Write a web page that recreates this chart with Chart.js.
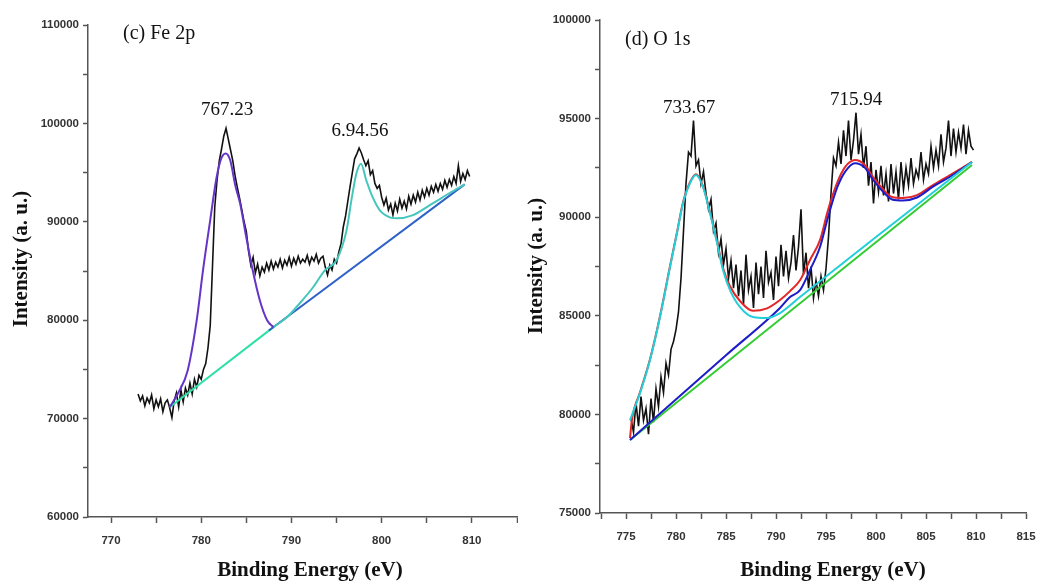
<!DOCTYPE html>
<html>
<head>
<meta charset="utf-8">
<title>XPS Fe 2p / O 1s</title>
<script src="https://cdn.jsdelivr.net/npm/chart.js@4.4.1/dist/chart.umd.min.js"></script>
<style>
  html, body { margin: 0; padding: 0; background: #fff; }
  #wrap { position: relative; width: 1037px; height: 583px; overflow: hidden; }
  .panel { position: absolute; top: 0; height: 583px; }
  #panel-fe { left: 0; width: 518px; }
  #panel-o { left: 518px; width: 519px; }
</style>
</head>
<body>
<div id="wrap">
  <div class="panel" id="panel-fe"><canvas id="chart-fe"></canvas></div>
  <div class="panel" id="panel-o"><canvas id="chart-o"></canvas></div>
</div>
<script>
// ---- (c) Fe 2p ----
const feXLabels = [770, 780, 790, 800, 810];
const feYLabels = [60000, 70000, 80000, 90000, 100000, 110000];

// measured spectrum, one value every 0.25 eV from 773.0 eV
const feRawStart = 773.0;
const feRawStep = 0.25;
const feRaw = [
  72500, 71800, 72300, 71300, 72100, 71600, 72400, 71000,
  71900, 71200, 72000, 70700, 71600, 71900, 71100, 70100,
  71800, 72600, 71200, 72900, 71700, 73100, 72400, 73600,
  72500, 74000, 73200, 74400, 74000, 75000, 75600, 77200,
  79500, 85500, 91500, 94200, 96200, 97400, 98700, 99500,
  98400, 97300, 96200, 94700, 93500, 92400, 91200, 90000,
  89000, 87000, 85600, 86400, 84800, 85700, 84500, 85400,
  84900, 85800, 85100, 86000, 85200, 85900, 85400, 86200,
  85300, 86100, 85600, 86400, 85500, 86300, 85700, 86500,
  85800, 86200, 85900, 86600, 85700, 86400, 86000, 86700,
  85800, 86300, 86500, 85400, 84600, 85600, 85100, 86200,
  85800, 86900, 87800, 89500, 90600, 92100, 93600, 95000,
  96400, 96900, 97500, 97000, 96300, 95700, 96200, 94800,
  95200, 93900, 93400, 93700, 92500, 91700, 92400, 91200,
  91800, 90700, 91900, 91100, 92300, 91400, 92100, 91300,
  92600, 91800, 92700, 92000, 93000, 92200, 93200, 92500,
  93400, 92700, 93600, 93000, 93800, 93100, 93900, 93300,
  94200, 93500, 94300, 93700, 94600, 93900, 95700, 94100,
  94900, 94300, 95200, 94600
];

// fitted components
const fePeak1E = [776.5, 777.5, 778.5, 779.5, 780.2, 781.0, 781.7, 782.2, 782.7, 783.2, 783.8, 784.3, 785.0, 785.7, 786.5, 787.3, 788.0];
const fePeak1I = [71150, 72700, 74900, 80000, 85100, 90200, 94500, 96400, 96950, 96300, 93600, 91900, 88400, 85100, 82000, 80000, 79300];
const fePeak2E = [788.0, 789.5, 790.9, 792.4, 793.7, 795.0, 796.1, 796.7, 797.2, 797.7, 798.3, 799.0, 799.8, 800.9, 801.7, 803.4, 805.7, 807.5, 809.2];
const fePeak2I = [79300, 80300, 81700, 83350, 85070, 86100, 89100, 92500, 94900, 95900, 94200, 92500, 91160, 90450, 90350, 90650, 91900, 92900, 93800];
const feBaseLowE = [776.5, 788.0];
const feBaseLowI = [71150, 79300];
const feBaseHighE = [787.5, 809.2];
const feBaseHighI = [78950, 93800];

// ---- (d) O 1s ----
const oXLabels = [775, 780, 785, 790, 795, 800, 805, 810, 815];
const oYLabels = [75000, 80000, 85000, 90000, 95000, 100000];

const oRawStart = 775.5;
const oRawStep = 0.25;
const oRaw = [
  79800, 79100, 80600, 79400, 80900, 79700, 80300, 79000,
  80800, 79600, 81300, 80400, 81900, 81100, 82600, 82000,
  83300, 83700, 84300, 85200, 86900, 89300, 91700, 93300,
  93100, 94900, 92600, 92900, 91700, 92300, 91200, 90400,
  90900, 89300, 89700, 88200, 88900, 87600, 88400, 86900,
  87800, 86400, 87600, 86000, 87300, 85600, 88100, 86300,
  87000, 85400, 87700, 86100, 87500, 85900, 88300, 86700,
  87200, 85800, 88000, 86500, 88600, 87000, 88300, 86900,
  87700, 89100, 87300, 88500, 90400, 87100, 88200, 86400,
  87500, 85900, 86800, 86000, 87000, 86300, 87400, 89000,
  91200, 93000, 92600, 93800, 92700, 94400, 93100, 94900,
  92900, 93900, 95300, 93200, 94200, 92500, 93600, 91600,
  92800, 90700, 92400, 91300, 92600, 91100, 92200, 90800,
  92700, 91200, 92300, 90900, 92800, 91400, 92500, 91600,
  93000, 91700, 92400, 92000, 93300, 91900, 92700, 92200,
  93600, 92500, 93400, 92600, 94200, 92800, 93500, 94900,
  93100, 94500, 93300, 94300, 93500, 94700, 93200, 94400,
  93600, 93400
];

const oPeak1E = [775.4, 776.4, 777.4, 778.4, 779.4, 780.1, 780.7, 781.4, 782.0, 782.7, 783.4, 784.1, 784.7, 785.4, 786.4, 787.7, 789.1, 790.4, 792.4, 800.0, 809.6];
const oPeak1I = [79700, 81080, 82760, 84940, 87470, 89200, 90700, 91730, 92140, 91530, 90200, 88700, 87320, 86300, 85440, 84940, 84890, 85140, 85950, 89000, 92800];
const oEnvE = [775.4, 775.6, 776.4, 777.4, 778.4, 779.4, 780.1, 780.7, 781.4, 782.0, 782.7, 783.4, 784.1, 784.7, 785.4, 786.4, 787.7, 789.1, 790.4, 791.4, 792.4, 793.4, 794.4, 795.2, 796.1, 796.9, 797.9, 798.9, 799.7, 800.6, 801.6, 802.7, 804.1, 805.7, 807.4, 809.6];
const oEnvI = [78800, 79750, 81120, 82800, 84980, 87510, 89240, 90740, 91770, 92180, 91580, 90260, 88780, 87420, 86500, 85750, 85250, 85380, 85800, 86250, 86800, 87830, 88840, 90360, 91730, 92540, 92900, 92640, 92030, 91480, 91020, 90970, 91120, 91630, 92140, 92800];
const oPeak2E = [775.4, 785.0, 790.4, 791.4, 792.4, 793.4, 794.4, 795.2, 796.1, 796.9, 797.9, 798.9, 799.7, 800.6, 801.6, 802.7, 804.1, 805.7, 807.4, 809.6];
const oPeak2I = [78700, 83000, 85400, 85950, 86300, 87320, 88490, 90000, 91480, 92300, 92740, 92500, 91900, 91350, 90900, 90850, 91000, 91550, 92050, 92800];
const oBaseE = [775.4, 809.6];
const oBaseI = [78700, 92650];

const SANS = "'Liberation Sans', Arial, sans-serif";
const SERIF = "'Liberation Serif', 'Times New Roman', serif";

function pairs(xs, ys) {
  return xs.map((x, i) => ({ x: x, y: ys[i] }));
}

function rawPoints(start, step, ys) {
  return ys.map((y, i) => ({ x: start + i * step, y: y }));
}

function line(data, color, width, smooth) {
  return {
    data: data,
    borderColor: color,
    borderWidth: width,
    pointRadius: 0,
    showLine: true,
    fill: false,
    cubicInterpolationMode: smooth ? 'monotone' : 'default',
    tension: smooth ? 0.4 : 0
  };
}

function axis(min, max, step, labels, isX, size) {
  return {
    type: 'linear',
    min: min,
    max: max,
    ticks: {
      stepSize: step,
      includeBounds: false,
      autoSkip: false,
      maxRotation: 0,
      color: '#333',
      // x labels: gap below the tick comes from the line height, so the
      // tick padding does not eat into the plot width
      font: { family: SANS, size: 11.5, weight: 'bold', lineHeight: isX ? 3.1 : 1.2 },
      padding: isX ? 0 : 4,
      callback: v => labels.includes(v) ? String(v) : ''
    },
    grid: { drawOnChartArea: false, drawTicks: true, tickLength: isX ? 6 : 5, tickColor: '#555', tickWidth: 1.5 },
    border: { color: '#555', width: 1.5 },
    afterFit: function(scale) {
      if (isX) scale.height = size; else scale.width = size;
    }
  };
}

// free texts: panel tag, peak labels, axis titles
function textPlugin(items) {
  return {
    id: 'panelText',
    afterDraw(chart) {
      const ctx = chart.ctx;
      items.forEach(t => {
        ctx.save();
        ctx.font = (t.bold ? 'bold ' : '') + t.size + 'px ' + SERIF;
        ctx.fillStyle = '#111';
        ctx.textAlign = t.align || 'center';
        ctx.textBaseline = 'middle';
        ctx.translate(t.x, t.y);
        if (t.rotate) ctx.rotate(-Math.PI / 2);
        ctx.fillText(t.text, 0, 0);
        ctx.restore();
      });
    }
  };
}

function makeChart(id, datasets, scales, padding, texts) {
  return new Chart(document.getElementById(id), {
    type: 'scatter',
    data: { datasets: datasets },
    options: {
      responsive: true,
      maintainAspectRatio: false,
      animation: false,
      layout: { padding: padding },
      plugins: { legend: { display: false }, tooltip: { enabled: false } },
      scales: scales
    },
    plugins: [textPlugin(texts)]
  });
}

makeChart('chart-fe', [
  line(pairs(fePeak1E, fePeak1I), '#6634c8', 2, true),
  line(pairs(fePeak2E, fePeak2I), '#45c6bc', 2, true),
  line(pairs(feBaseHighE, feBaseHighI), '#2f62c8', 2, false),
  line(pairs(feBaseLowE, feBaseLowI), '#2de0a8', 2, false),
  line(rawPoints(feRawStart, feRawStep, feRaw), '#111', 1.6, false)
], {
  x: axis(767.45, 815, 5, feXLabels, true, 66),
  y: axis(60000, 110000, 5000, feYLabels, false, 88)
}, { top: 25, right: 1, bottom: 0, left: 0 }, [
  { text: '(c) Fe 2p', x: 123, y: 34, size: 20, align: 'left' },
  { text: '767.23', x: 227, y: 110, size: 19 },
  { text: '6.94.56', x: 360, y: 131, size: 19 },
  { text: 'Intensity (a. u.)', x: 22, y: 259, size: 21, bold: true, rotate: true },
  { text: 'Binding Energy (eV)', x: 310, y: 571, size: 21, bold: true }
]);

makeChart('chart-o', [
  line(pairs(oPeak1E, oPeak1I), '#22cfd8', 2, true),
  line(pairs(oPeak2E, oPeak2I), '#1c1cc8', 2, true),
  line(pairs(oEnvE, oEnvI), '#e32626', 2, true),
  line(pairs(oBaseE, oBaseI), '#33cc33', 2, false),
  line(rawPoints(oRawStart, oRawStep, oRaw), '#111', 1.6, false)
], {
  x: axis(772.4, 815, 2.5, oXLabels, true, 70),
  y: axis(75000, 100000, 2500, oYLabels, false, 82)
}, { top: 20, right: 11, bottom: 0, left: 0 }, [
  { text: '(d) O 1s', x: 107, y: 40, size: 20, align: 'left' },
  { text: '733.67', x: 171, y: 108, size: 19 },
  { text: '715.94', x: 338, y: 100, size: 19 },
  { text: 'Intensity (a. u.)', x: 19, y: 266, size: 21, bold: true, rotate: true },
  { text: 'Binding Energy (eV)', x: 315, y: 571, size: 21, bold: true }
]);
</script>
</body>
</html>
